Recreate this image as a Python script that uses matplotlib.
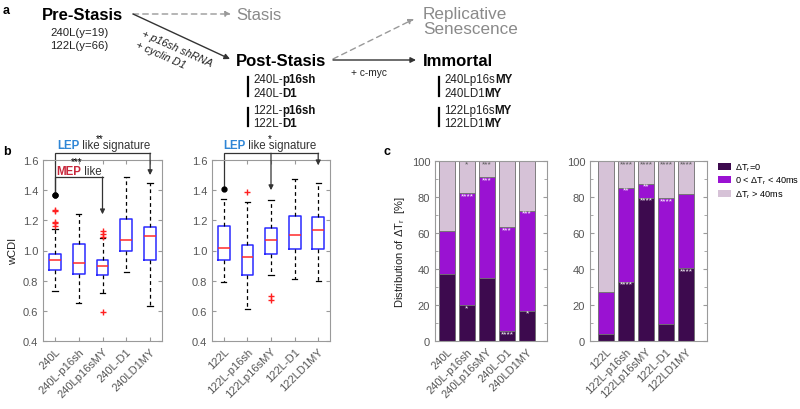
import numpy as np
import matplotlib
matplotlib.use("Agg")
import matplotlib.pyplot as plt
from matplotlib.patches import Patch

plt.rcParams["font.family"] = ["Liberation Sans", "DejaVu Sans"]
plt.rcParams["mathtext.fontset"] = "custom"
plt.rcParams["mathtext.rm"] = "Liberation Sans"
plt.rcParams["mathtext.it"] = "Liberation Sans:italic"

# ============================================================
# Data
# ============================================================

LABELS_240 = ["240L", "240L-p16sh", "240Lp16sMY", "240L-D1", "240LD1MY"]
LABELS_122 = ["122L", "122L-p16sh", "122Lp16sMY", "122L-D1", "122LD1MY"]

# panel b: wCDI box summaries
MED_240 = [0.94, 0.92, 0.90, 1.07, 1.095]
Q1_240 = [0.87, 0.845, 0.835, 1.00, 0.94]
Q3_240 = [0.98, 1.045, 0.935, 1.21, 1.155]
LO_240 = [0.73, 0.65, 0.72, 0.86, 0.635]
HI_240 = [1.14, 1.24, 1.08, 1.49, 1.45]
FLIERS_240 = [[1.16, 1.18, 1.19, 1.26, 1.27], [], [0.59, 1.09, 1.11, 1.13], [], []]

MED_122 = [1.015, 0.96, 1.068, 1.103, 1.138]
Q1_122 = [0.94, 0.84, 0.98, 1.01, 1.01]
Q3_122 = [1.16, 1.037, 1.147, 1.226, 1.22]
LO_122 = [0.79, 0.615, 0.84, 0.81, 0.80]
HI_122 = [1.34, 1.32, 1.335, 1.477, 1.45]
FLIERS_122 = [[], [1.39], [0.67, 0.70], [], []]

# panel c: share of dT_r = 0 and cumulative share below 40 ms (%)
DARK_240 = [37.3, 20.1, 35.2, 5.5, 16.8]
CUM_240 = [60.9, 82.1, 91.0, 63.1, 72.5]
DARK_122 = [3.7, 33.0, 79.7, 9.2, 40.6]
CUM_122 = [27.5, 85.2, 87.5, 79.3, 81.5]

STARS_LIGHT_240 = ["", "*", "***", "", ""]
STARS_MID_240 = ["", "****", "***", "***", "***"]
STARS_DARK_240 = ["", "*", "", "****", "*"]
STARS_LIGHT_122 = ["", "****", "****", "****", "****"]
STARS_MID_122 = ["", "**", "**", "****", ""]
STARS_DARK_122 = ["", "****", "****", "", "****"]

C_DARK = "#3d0a4e"
C_MID = "#9a12d2"
C_LIGHT = "#d6c2d7"
TICK_C = "#555555"
SPINE_C = "#9a9a9a"


def style_axes(ax):
    for s in ax.spines.values():
        s.set_color(SPINE_C)
        s.set_linewidth(0.8)
    ax.tick_params(direction="in", length=3, colors=SPINE_C, labelcolor=TICK_C,
                   labelsize=8, right=True, top=True)


def box_panel(ax, labels, med, q1, q3, lo, hi, fliers):
    stats = []
    for i in range(len(labels)):
        stats.append(dict(med=med[i], q1=q1[i], q3=q3[i], whislo=lo[i],
                          whishi=hi[i], fliers=fliers[i], label=labels[i]))
    ax.bxp(stats, widths=0.5, capwidths=0.22,
           boxprops=dict(color="#2a2aff", linewidth=1.1),
           medianprops=dict(color="#ff2a2a", linewidth=1.1),
           whiskerprops=dict(color="k", linewidth=0.9, linestyle=(0, (3, 2.5))),
           capprops=dict(color="k", linewidth=0.9),
           flierprops=dict(marker="+", markeredgecolor="#ff2020", markersize=5,
                           markeredgewidth=1))
    ax.set_ylim(0.4, 1.6)
    ax.set_xlim(0.5, 5.5)
    ax.set_yticks(np.arange(0.4, 1.61, 0.2))
    ax.set_xticks(np.arange(1, 6))
    ax.set_xticklabels(labels, rotation=45, ha="right", rotation_mode="anchor")
    style_axes(ax)


def bracket(ax, x0, y0, top, ends):
    # ends: list of (x, y) arrow targets
    xs_end = max(e[0] for e in ends)
    ax.plot([x0, x0, xs_end], [y0, top, top], color="#333333", lw=0.9,
            clip_on=False, solid_joinstyle="miter")
    ax.plot([x0], [y0], "o", color="k", markersize=3.5, clip_on=False)
    for xe, ye in ends:
        ax.annotate("", xy=(xe, ye), xytext=(xe, top), annotation_clip=False,
                    arrowprops=dict(arrowstyle="-|>", color="#333333", lw=0.9,
                                    mutation_scale=7, shrinkA=0, shrinkB=0))


def bar_panel(ax, labels, dark, cum, st_light, st_mid, st_dark, xlim):
    x = np.arange(1, len(labels) + 1)
    dark = np.array(dark)
    cum = np.array(cum)
    mid = cum - dark
    light = 100 - cum
    kw = dict(width=0.8, edgecolor="#6e6e6e", linewidth=0.6)
    ax.bar(x, dark, color=C_DARK, **kw)
    ax.bar(x, mid, bottom=dark, color=C_MID, **kw)
    ax.bar(x, light, bottom=cum, color=C_LIGHT, **kw)
    for xi, d, c, s1, s2, s3 in zip(x, dark, cum, st_light, st_mid, st_dark):
        ax.text(xi, 100.5, s1, color="#555555", ha="center", va="top", fontsize=6)
        ax.text(xi, c + 0.5, s2, color="white", ha="center", va="top", fontsize=6)
        ax.text(xi, d + 0.5, s3, color="white", ha="center", va="top", fontsize=6)
    ax.set_ylim(0, 100)
    ax.set_xlim(*xlim)
    ax.set_yticks(np.arange(0, 101, 20))
    ax.set_yticks(np.arange(10, 100, 20), minor=True)
    ax.set_xticks(x)
    ax.set_xticklabels(labels, rotation=45, ha="right", rotation_mode="anchor")
    style_axes(ax)
    ax.tick_params(which="minor", direction="in", length=2, colors=SPINE_C,
                   right=True)
    ax.tick_params(axis="x", length=0)


def mixed(ax, x, y, parts, size):
    t = None
    for s, weight, color in parts:
        if t is None:
            t = ax.text(x, y, s, fontweight=weight, color=color, fontsize=size,
                        va="center", ha="left")
        else:
            t = ax.annotate(s, xy=(1, 0), xycoords=t, fontweight=weight,
                            color=color, fontsize=size, va="bottom", ha="left")
    return t


# ============================================================
# Figure
# ============================================================

fig = plt.figure(figsize=(8, 4.1), dpi=100)
H = 410.0

def rect(x0, x1, y0, y1):
    return [x0 / 800, 1 - y1 / H, (x1 - x0) / 800, (y1 - y0) / H]

ax_b1 = fig.add_axes(rect(43, 162, 161, 342))
ax_b2 = fig.add_axes(rect(212, 330, 161, 342))
ax_c1 = fig.add_axes(rect(435, 547, 162, 342))
ax_c2 = fig.add_axes(rect(590, 707, 162, 342))

box_panel(ax_b1, LABELS_240, MED_240, Q1_240, Q3_240, LO_240, HI_240, FLIERS_240)
box_panel(ax_b2, LABELS_122, MED_122, Q1_122, Q3_122, LO_122, HI_122, FLIERS_122)
ax_b1.set_ylabel("wCDI", fontsize=8, color="#222222", labelpad=3)

bracket(ax_b1, 1, 1.37, 1.645, [(5, 1.50)])
bracket(ax_b1, 1, 1.37, 1.487, [(3, 1.24)])
bracket(ax_b2, 1, 1.41, 1.645, [(3, 1.40), (5, 1.565)])

bar_panel(ax_c1, LABELS_240, DARK_240, CUM_240, STARS_LIGHT_240, STARS_MID_240,
          STARS_DARK_240, (0.4, 6.0))
bar_panel(ax_c2, LABELS_122, DARK_122, CUM_122, STARS_LIGHT_122, STARS_MID_122,
          STARS_DARK_122, (0.2, 6.05))
ax_c1.set_ylabel(r"Distribution of ΔT$_\mathregular{r}$  [%]", fontsize=8,
                 color="#222222", labelpad=3)

fig.legend(handles=[Patch(facecolor=C_DARK, edgecolor="none"),
                    Patch(facecolor=C_MID, edgecolor="none"),
                    Patch(facecolor=C_LIGHT, edgecolor="none")],
           labels=[r"ΔT$_\mathregular{r}$=0",
                   r"0 < ΔT$_\mathregular{r}$ < 40ms",
                   r"ΔT$_\mathregular{r}$ > 40ms"],
           loc="upper left", bbox_to_anchor=(714 / 800, 1 - 159 / H),
           frameon=False, fontsize=6.6, handlelength=1.5, handleheight=0.8,
           handletextpad=0.4, labelspacing=0.2, borderaxespad=0)

# overlay in pixel coordinates for the schematic and panel text
ov = fig.add_axes([0, 0, 1, 1])
ov.set_xlim(0, 800)
ov.set_ylim(H, 0)
ov.axis("off")

for lab, (px, py) in zip(["a", "b", "c"], [(3, 11), (3, 152), (383, 152)]):
    ov.text(px, py, lab, fontsize=9, fontweight="bold", va="center", ha="left")

# panel a schematic
big = 12
ov.text(42, 15, "Pre-Stasis", fontsize=big, fontweight="bold", va="center")
ov.text(50, 33, "240L(y=19)", fontsize=8.2, va="center", color="#222222")
ov.text(50, 46, "122L(y=66)", fontsize=8.2, va="center", color="#222222")
ov.text(236, 15, "Stasis", fontsize=big, color="#8a8a8a", va="center")
ov.text(236, 62, "Post-Stasis", fontsize=big, fontweight="bold", va="center")
ov.text(423, 14, "Replicative", fontsize=12.3, color="#8a8a8a", va="center")
ov.text(423, 29, "Senescence", fontsize=12.3, color="#8a8a8a", va="center")
ov.text(423, 62, "Immortal", fontsize=big, fontweight="bold", va="center")

arrow_solid = dict(arrowstyle="-|>", color="#333333", lw=1.0, mutation_scale=8,
                   shrinkA=0, shrinkB=0)
arrow_dash = dict(arrowstyle="-|>", color="#999999", lw=1.0, mutation_scale=8,
                  shrinkA=0, shrinkB=0, linestyle=(0, (4, 3)))
ov.annotate("", xy=(231, 15), xytext=(133, 15), arrowprops=arrow_dash)
ov.annotate("", xy=(230, 60), xytext=(133, 15), arrowprops=arrow_solid)
ov.annotate("", xy=(414, 20), xytext=(333, 60), arrowprops=arrow_dash)
ov.annotate("", xy=(416, 61), xytext=(333, 61), arrowprops=arrow_solid)

ov.text(141, 36, "+ p16sh shRNA", fontsize=7.8, style="italic", rotation=-24,
        rotation_mode="anchor", ha="left", va="baseline", color="#222222")
ov.text(135, 47, "+ cyclin D1", fontsize=7.8, style="italic", rotation=-24,
        rotation_mode="anchor", ha="left", va="baseline", color="#222222")
ov.text(351, 73, "+ c-myc", fontsize=7.3, va="center", color="#222222")

for bx, rows in [(248, [("240L-", "p16sh"), ("240L-", "D1"),
                        ("122L-", "p16sh"), ("122L-", "D1")]),
                 (439, [("240Lp16s", "MY"), ("240LD1", "MY"),
                        ("122Lp16s", "MY"), ("122LD1", "MY")])]:
    for (yy0, yy1) in [(78, 97), (109, 127)]:
        ov.plot([bx, bx], [yy0, yy1], color="k", lw=1.6)
    for (s_norm, s_bold), yy in zip(rows, [80, 94, 111, 124]):
        mixed(ov, bx + 5, yy, [(s_norm, "normal", "#222222"),
                               (s_bold, "bold", "#111111")], 8.3)

# panel b bracket labels
mixed(ov, 57, 146, [("LEP", "bold", "#2f86d6"),
                    (" like signature", "normal", "#333333")], 8.3)
ov.text(100, 139, "**", fontsize=7, ha="center", va="center")
mixed(ov, 56, 172, [("MEP", "bold", "#c8283c"),
                    (" like", "normal", "#333333")], 8.3)
ov.text(77, 162, "***", fontsize=7, ha="center", va="center")
mixed(ov, 223, 146, [("LEP", "bold", "#2f86d6"),
                     (" like signature", "normal", "#333333")], 8.3)
ov.text(270, 139, "*", fontsize=7, ha="center", va="center")

fig.savefig("out.png", dpi=100)
